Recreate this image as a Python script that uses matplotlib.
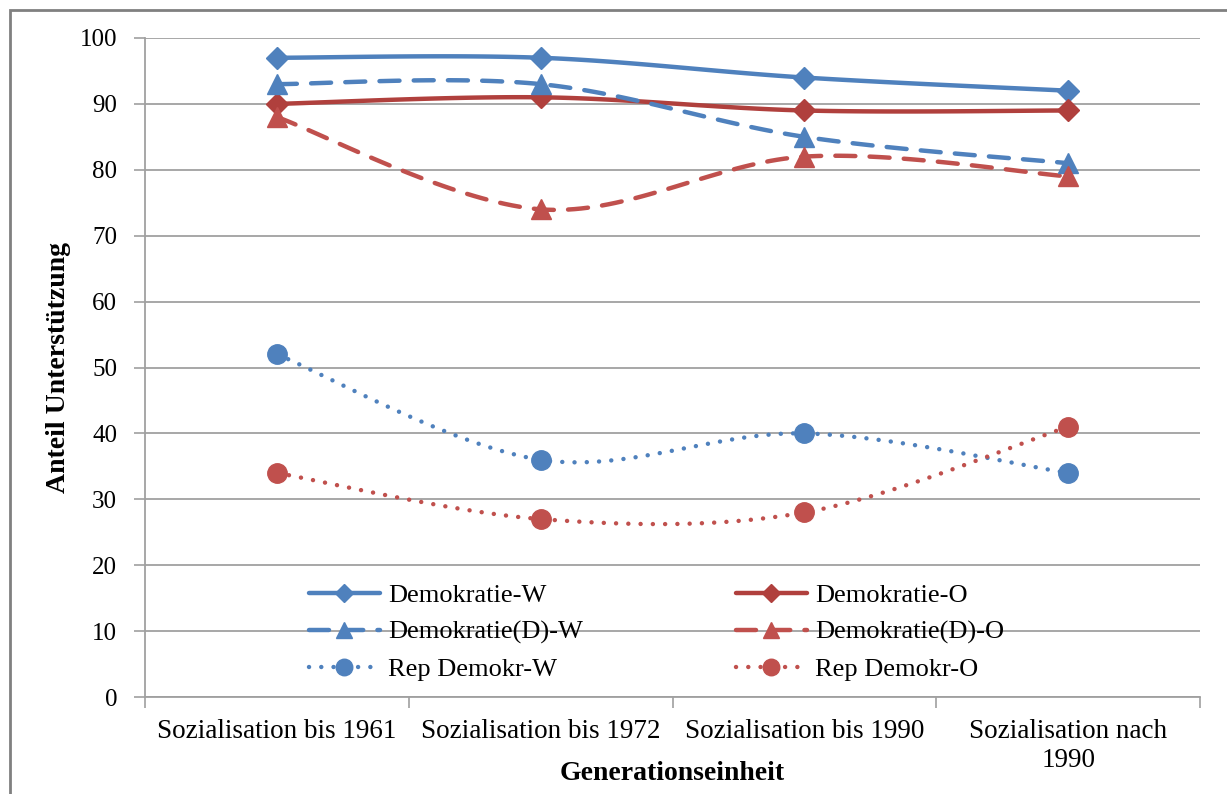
import numpy as np
import matplotlib
matplotlib.use("Agg")
import matplotlib.pyplot as plt
from matplotlib.lines import Line2D
from matplotlib.patches import Rectangle

categories = ["Sozialisation bis 1961", "Sozialisation bis 1972",
              "Sozialisation bis 1990", "Sozialisation nach\n1990"]
demokratie_w = [97, 97, 94, 92]
demokratie_o = [90, 91, 89, 89]
demokratie_d_w = [93, 93, 85, 81]
demokratie_d_o = [88, 74, 82, 79]
rep_demokr_w = [52, 36, 40, 34]
rep_demokr_o = [34, 27, 28, 41]
yticks = list(range(0, 101, 10))

BLUE = "#4F81BD"
RED = "#C0504D"
DRED = "#B0403D"
GRID = "#A0A0A0"

plt.rcParams['font.family'] = ['Liberation Serif', 'DejaVu Serif']


def smooth(x, y, n=40):
    """Bezier smoothing similar to Excel smoothed lines."""
    x = np.asarray(x, float)
    y = np.asarray(y, float)
    px = np.concatenate([[x[0]], x, [x[-1]]])
    py = np.concatenate([[y[0]], y, [y[-1]]])
    xs, ys = [], []
    for i in range(1, len(px) - 2):
        p0, p1, p2, p3 = (np.array([px[j], py[j]]) for j in (i - 1, i, i + 1, i + 2))
        c1 = p1 + (p2 - p0) / 6.0
        c2 = p2 - (p3 - p1) / 6.0
        t = np.linspace(0, 1, n)[:, None]
        pts = ((1 - t) ** 3) * p1 + 3 * ((1 - t) ** 2) * t * c1 + 3 * (1 - t) * t ** 2 * c2 + t ** 3 * p2
        xs.extend(pts[:, 0])
        ys.extend(pts[:, 1])
    return np.array(xs), np.array(ys)


fig = plt.figure(figsize=(12.27, 7.94), dpi=100)
ax = fig.add_axes([145 / 1227, 1 - 697 / 794, (1200 - 145) / 1227, (697 - 38) / 794])

x = np.arange(len(categories))
DASH = (0, (4.5, 3.2))
DOT = (0, (0.01, 2.75))
series = [
    ("Demokratie-W", demokratie_w, BLUE, "-", "D", 11),
    ("Demokratie-O", demokratie_o, DRED, "-", "D", 11),
    ("Demokratie(D)-W", demokratie_d_w, BLUE, DASH, "^", 14),
    ("Demokratie(D)-O", demokratie_d_o, RED, DASH, "^", 14),
    ("Rep Demokr-W", rep_demokr_w, BLUE, DOT, "o", 14),
    ("Rep Demokr-O", rep_demokr_o, RED, DOT, "o", 14),
]

handles = []
for label, vals, col, ls, mk, ms in series:
    sx, sy = smooth(x, vals)
    ax.plot(sx, sy, color=col, lw=3.2, ls=ls, zorder=3,
            dash_capstyle="round", solid_capstyle="round")
    ax.plot(x, vals, ls="none", marker=mk, ms=ms, color=col, zorder=4)
    handles.append(Line2D([], [], color=col, lw=3.2, ls=ls, marker=mk, ms=ms * 0.85,
                          dash_capstyle="round", solid_capstyle="round", label=label))

ax.set_xlim(-0.5, 3.5)
ax.set_ylim(0, 100)
ax.set_yticks(yticks)
ax.set_xticks(x)
ax.set_xticklabels(categories, fontsize=19.5, linespacing=1.2)
ax.set_xticks(np.arange(-0.5, 3.6, 1), minor=True)
ax.tick_params(axis="x", which="major", length=0, pad=16)
ax.tick_params(axis="x", which="minor", length=8, color=GRID, width=1.2)
ax.tick_params(axis="y", length=8, color=GRID, width=1.2, labelsize=18, pad=12)
ax.grid(axis="y", color=GRID, lw=1.3)
ax.set_axisbelow(True)
for s in ["top", "right"]:
    ax.spines[s].set_visible(False)
for s in ["left", "bottom"]:
    ax.spines[s].set_color(GRID)
    ax.spines[s].set_linewidth(1.3)

ax.set_ylabel("Anteil Unterstützung", fontsize=20, fontweight="bold", labelpad=6)
ax.set_xlabel("Generationseinheit", fontsize=20, fontweight="bold", labelpad=-9)

order = [0, 2, 4, 1, 3, 5]
ax.legend(handles=[handles[i] for i in order], ncol=2, loc="upper left",
          bbox_to_anchor=(140 / 1055, 1 - (560 - 38) / 659),
          frameon=False, fontsize=19, handlelength=2.7,
          columnspacing=5.8, labelspacing=0.5, handletextpad=0.3)

fig.patches.append(Rectangle((10 / 1227, -0.05), 1.1, (794 - 10) / 794 + 0.05,
                             transform=fig.transFigure, fill=False,
                             edgecolor="#808080", lw=2))

fig.savefig("out.png", dpi=100)
